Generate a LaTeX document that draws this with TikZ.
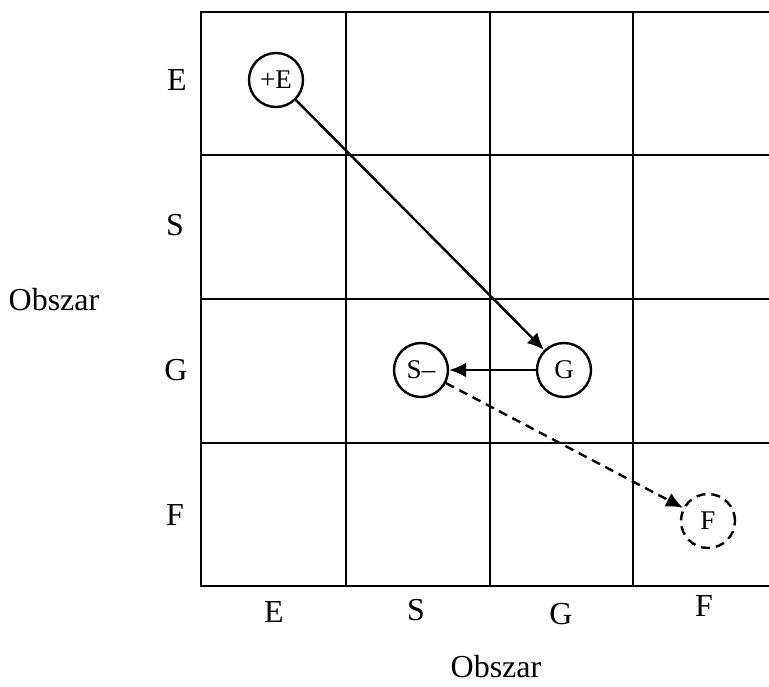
\documentclass[tikz,border=0pt]{standalone}
\usepackage{fontspec}
\setmainfont{Liberation Serif}
\usetikzlibrary{arrows.meta,positioning,calc}

\tikzset{
  circ/.style={draw, circle, line width=2.4pt, minimum size=54pt, inner sep=0pt, font=\fontsize{27}{32}\selectfont},
  lab/.style={font=\fontsize{32}{38}\selectfont, inner sep=0pt},
  grid/.style={line width=2.6pt},
  link/.style={line width=2.4pt, -{Latex[length=17pt,width=15pt]}}
}

\begin{document}
\begin{tikzpicture}[x=1pt,y=-1pt]
\useasboundingbox (0,0) rectangle (769,686);
% the grid, open on the right
\draw[grid] (769,12) -- (201,12) -- (201,586) -- (769,586);
\foreach \x in {346,490,633} \draw[grid] (\x,12) -- (\x,586);
\foreach \y in {155,299,443} \draw[grid] (201,\y) -- (769,\y);

% row and column labels
\node[lab] (rowE) at (177,80) {E};
\node[lab] (rowS) at (175,225) {S};
\node[lab] (rowG) at (176,370) {G};
\node[lab] (rowF) at (175,515) {F};
\node[lab] (colE) at (274,612) {E};
\node[lab] (colS) at (416,610) {S};
\node[lab] (colG) at (561,614) {G};
\node[lab] (colF) at (704,606) {F};
\node[lab] (axisY) at (54,300) {Obszar};
\node[lab] (axisX) at (496,667) {Obszar};

% states
\node[circ] (plusE) at (276,80) {+E};
\node[circ] (g) at (564,370) {G};
\node[circ] (sminus) at (421,370) {S–};
\node[circ, dash pattern=on 9pt off 6pt] (f) at (708,521) {F};

\draw[link] (plusE) -- (g);
\draw[link] (g) -- (sminus);
\draw[link, dash pattern=on 9pt off 6pt] (sminus) -- (f);
\end{tikzpicture}
\end{document}
